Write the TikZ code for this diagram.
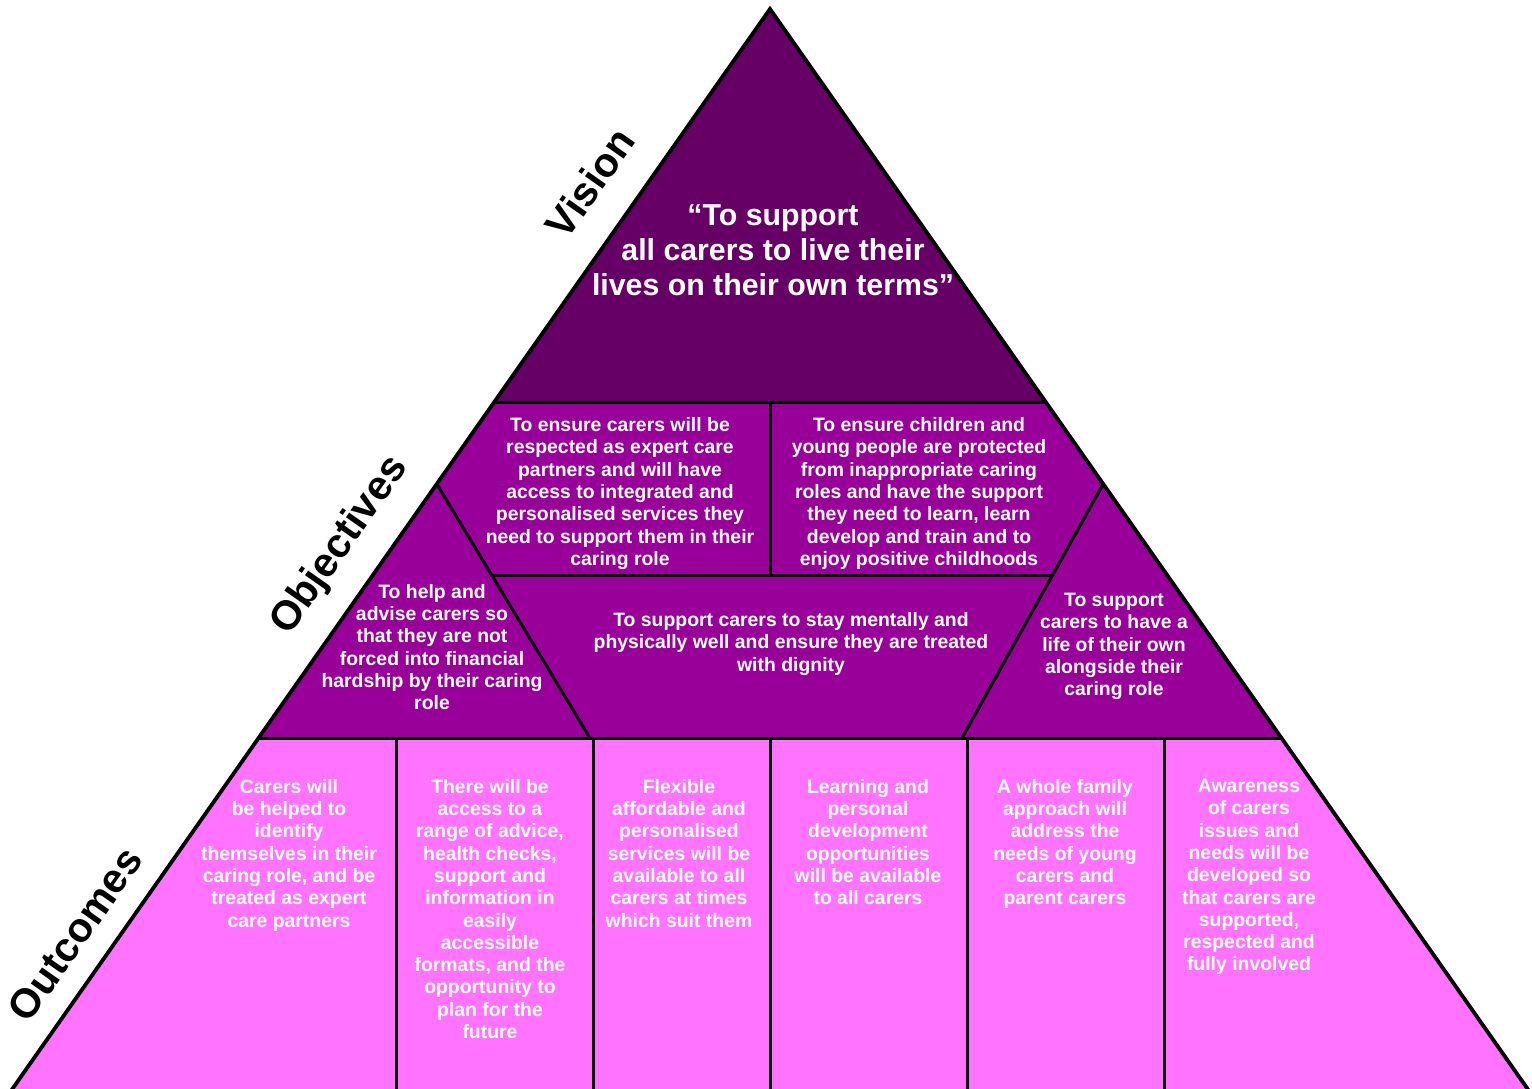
\documentclass[tikz,border=0pt]{standalone}
\usepackage{fontspec}
\setmainfont{Liberation Sans}
\definecolor{visc}{HTML}{660066}
\definecolor{objc}{HTML}{990099}
\definecolor{outc}{HTML}{FF73FF}
\begin{document}
\begin{tikzpicture}[x=1pt,y=-1pt,
  inner/.style={line width=3pt,black},
  outer/.style={line width=3.8pt,black,line join=miter},
  smalltxt/.style={text=white,align=center,inner sep=0pt,font=\fontsize{19.4}{22.3}\selectfont\bfseries},
  bigtxt/.style={text=white,align=center,inner sep=0pt,font=\fontsize{30.3}{35}\selectfont\bfseries},
  lvl/.style={text=black,inner sep=0pt,rotate=54.9,font=\fontsize{41}{41}\selectfont\bfseries}]
\useasboundingbox (0,0) rectangle (1532,1088);
\fill[white] (0,0) rectangle (1532,1088);
\clip (0,0) rectangle (1532,1088);
% key points
\coordinate (A) at (770,9);
\coordinate (L1) at (494.3,402);
\coordinate (R1) at (1045.7,402);
\coordinate (P1) at (436.8,484);
\coordinate (P2) at (1103.2,484);
\coordinate (L3) at (258.6,738);
\coordinate (R3) at (1281.4,738);
\coordinate (L4) at (4.6,1100);
\coordinate (R4) at (1535.4,1100);
\coordinate (M1) at (770,402);
\coordinate (M2) at (770,575);
\coordinate (S1) at (491.7,575);
\coordinate (S2) at (1052.6,575);
\coordinate (Q1) at (590,738);
\coordinate (Q2) at (962,738);
% fills
\fill[visc] (A) -- (L1) -- (R1) -- cycle;
\fill[objc] (L1) -- (L3) -- (R3) -- (R1) -- cycle;
\fill[outc] (L3) -- (L4) -- (R4) -- (R3) -- cycle;
% inner lines
\draw[inner] (L1) -- (R1);
\draw[inner] (M1) -- (M2);
\draw[inner] (S1) -- (S2);
\draw[inner] (P1) -- (Q1);
\draw[inner] (P2) -- (Q2);
\draw[inner] (L3) -- (R3);
\foreach \x/\n in {396/d1,593/d2,770/d3,967/d4,1164/d5}{
  \coordinate (\n t) at (\x,738);
  \coordinate (\n b) at (\x,1100);
  \draw[inner] (\n t) -- (\n b);
}
% outer edges
\draw[outer] (L4) -- (A) -- (R4);
% level labels
\node[lvl] (lvis) at (590,183) {Vision};
\node[lvl] (lobj) at (340,546) {Objectives};
\node[lvl] (lout) at (75,934) {Outcomes};
% vision
\node[bigtxt] (vis) at (773,250) {“To support\\all carers to live their\\lives on their own terms”};
% objectives
\node[smalltxt] (o1) at (620,493.5) {To ensure carers will be\\respected as expert care\\partners and will have\\access to integrated and\\personalised services they\\need to support them in their\\caring role};
\node[smalltxt] (o2) at (919,493.5) {To ensure children and\\young people are protected\\from inappropriate caring\\roles and have the support\\they need to learn, learn\\develop and train and to\\enjoy positive childhoods};
\node[smalltxt] (o3) at (432,647) {To help and\\advise carers so\\that they are not\\forced into financial\\hardship by their caring\\role};
\node[smalltxt] (o4) at (791,644) {To support carers to stay mentally and\\physically well and ensure they are treated\\with dignity};
\node[smalltxt] (o5) at (1114,646.5) {To support\\carers to have a\\life of their own\\alongside their\\caring role};
% outcomes
\node[smalltxt,anchor=north] (u1) at (289,779) {Carers will\\be helped to\\identify\\themselves in their\\caring role, and be\\treated as expert\\care partners};
\node[smalltxt,anchor=north] (u2) at (490,779) {There will be\\access to a\\range of advice,\\health checks,\\support and\\information in\\easily\\accessible\\formats, and the\\opportunity to\\plan for the\\future};
\node[smalltxt,anchor=north] (u3) at (679,779) {Flexible\\affordable and\\personalised\\services will be\\available to all\\carers at times\\which suit them};
\node[smalltxt,anchor=north] (u4) at (868,779) {Learning and\\personal\\development\\opportunities\\will be available\\to all carers};
\node[smalltxt,anchor=north] (u5) at (1065,779) {A whole family\\approach will\\address the\\needs of young\\carers and\\parent carers};
\node[smalltxt,anchor=north] (u6) at (1249,779) {Awareness\\of carers\\issues and\\needs will be\\developed so\\that carers are\\supported,\\respected and\\fully involved};
\end{tikzpicture}
\end{document}
